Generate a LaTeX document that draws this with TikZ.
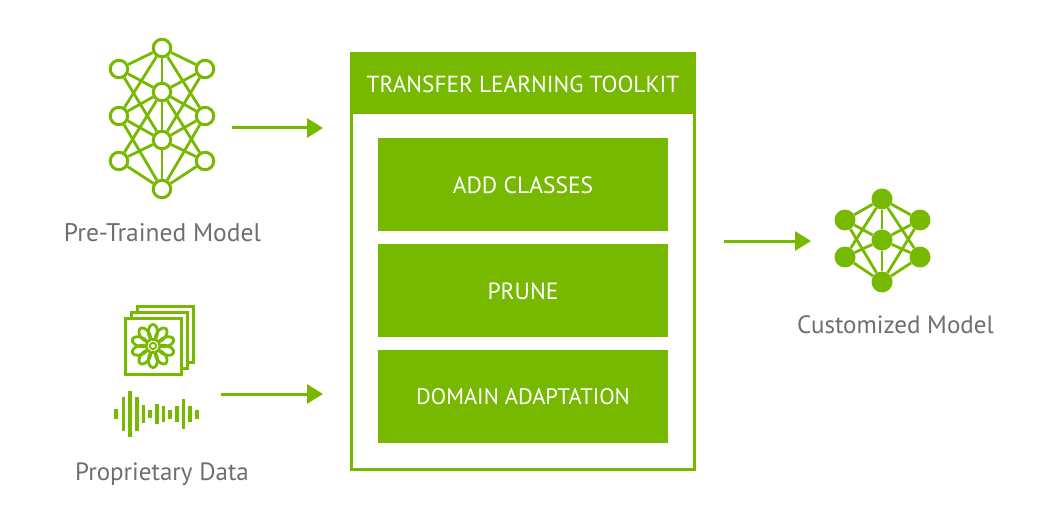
\documentclass[tikz,border=0pt]{standalone}
\usepackage{fontspec}
\setmainfont{PT Sans}
\usetikzlibrary{arrows.meta}
\definecolor{nvgreen}{HTML}{76B900}
\definecolor{labelgray}{HTML}{6E6E6E}
\tikzset{
  ring/.style={circle,draw=nvgreen,line width=3pt,fill=white,minimum size=17.5pt,inner sep=0pt},
  dot/.style={circle,fill=nvgreen,minimum size=21pt,inner sep=0pt},
  link/.style={draw=nvgreen,line width=2.8pt},
  flow/.style={draw=nvgreen,line width=3pt,-{Triangle[length=16pt,width=19pt]}},
  stepbox/.style={fill=nvgreen,text=white,minimum width=290pt,minimum height=93pt,inner sep=0pt,text height=18.5pt,text depth=0pt,font=\fontsize{23.5}{28}\selectfont},
  caption/.style={text=labelgray,inner sep=0pt,font=\fontsize{25}{30}\selectfont},
  page/.style={fill=white,draw=nvgreen,line width=3pt}
}
\begin{document}
\begin{tikzpicture}[x=1pt,y=-1pt]
  \useasboundingbox (0,0) rectangle (1046,524);
  % pre-trained network
  \begin{scope}[every node/.style={ring}]
    \draw[draw=none]
      (162,48) node (p0){}
      (119,69) node (p1){}
      (205,69) node (p2){}
      (162,92) node (p3){}
      (119,116) node (p4){}
      (205,116) node (p5){}
      (162,140) node (p6){}
      (119,161) node (p7){}
      (205,161) node (p8){}
      (162,189) node (p9){};
  \end{scope}
  \draw[link] (p0) to (p1);
  \draw[link] (p0) to (p2);
  \draw[link] (p0) to (p3);
  \draw[link] (p0) to (p4);
  \draw[link] (p0) to (p5);
  \draw[link] (p1) to (p3);
  \draw[link] (p1) to (p6);
  \draw[link] (p2) to (p3);
  \draw[link] (p2) to (p6);
  \draw[link] (p3) to (p4);
  \draw[link] (p3) to (p5);
  \draw[link] (p3) to (p6);
  \draw[link] (p3) to (p7);
  \draw[link] (p3) to (p8);
  \draw[link] (p4) to (p6);
  \draw[link] (p4) to (p9);
  \draw[link] (p5) to (p6);
  \draw[link] (p5) to (p9);
  \draw[link] (p6) to (p7);
  \draw[link] (p6) to (p8);
  \draw[link] (p6) to (p9);
  \draw[link] (p7) to (p9);
  \draw[link] (p8) to (p9);
  \node[caption,font=\fontsize{25.5}{30}\selectfont] (pretrained) at (162.5,233) {Pre-Trained Model};
  % data icons
  \draw[page] (137.5,306) rectangle (193.5,362);
  \draw[page] (131,312) rectangle (187,368);
  \draw[page] (125,318) rectangle (181,374);
  \foreach \a in {0,36,...,324}
    \draw[nvgreen,line width=2.8pt,rotate around={\a:(153,346)}] (153,332) ellipse (4.6pt and 7.6pt);
  \fill[white] (153,346) circle (3.6pt);
  \draw[nvgreen,line width=1.8pt] (153,346) circle (3.2pt);
  \foreach \x/\h in {116/5,123.3/17,130/23,136.7/17,143.3/9,150/4,156.7/10,163.3/8,170/4.5,176.7/8,183.3/15,190/8,196.7/4.5}
    \fill[nvgreen] (\x-1.8,414-\h) rectangle (\x+1.8,414+\h);
  \node[caption] (proprietary) at (162,474) {Proprietary Data};
  % toolkit
  \draw[page] (351.5,53.5) rectangle (694.5,469.5);
  \node[fill=nvgreen,text=white,minimum width=346pt,minimum height=62pt,inner sep=0pt,text height=19pt,text depth=0pt,font=\fontsize{23.3}{28}\selectfont] (toolkit) at (523,83) {TRANSFER LEARNING TOOLKIT};
  \node[stepbox] (classes) at (523,184.5) {ADD CLASSES};
  \node[stepbox] (prune) at (523,290.5) {PRUNE};
  \node[stepbox,text height=15pt,font=\fontsize{22.5}{27}\selectfont] (domain) at (523,396.5) {DOMAIN ADAPTATION};
  % customized network
  \begin{scope}[every node/.style={dot}]
    \draw[draw=none]
      (882,199) node (c0){}
      (845,220) node (c1){}
      (920,220) node (c2){}
      (882,240) node (c3){}
      (845,257) node (c4){}
      (920,257) node (c5){}
      (882,282) node (c6){};
  \end{scope}
  \draw[link] (c0) to (c1);
  \draw[link] (c0) to (c2);
  \draw[link] (c0) to (c3);
  \draw[link] (c0) to (c4);
  \draw[link] (c0) to (c5);
  \draw[link] (c1) to (c3);
  \draw[link] (c1) to (c6);
  \draw[link] (c2) to (c3);
  \draw[link] (c2) to (c6);
  \draw[link] (c3) to (c4);
  \draw[link] (c3) to (c5);
  \draw[link] (c3) to (c6);
  \draw[link] (c4) to (c6);
  \draw[link] (c5) to (c6);
  \node[caption] (customized) at (895.5,325) {Customized Model};
  % arrows
  \coordinate (a0) at (232,128);
  \coordinate (a1) at (323,128);
  \coordinate (b0) at (221,394);
  \coordinate (b1) at (323,394);
  \coordinate (d0) at (724,241);
  \coordinate (d1) at (811,241);
  \draw[flow] (a0) to (a1);
  \draw[flow] (b0) to (b1);
  \draw[flow] (d0) to (d1);
\end{tikzpicture}
\end{document}
